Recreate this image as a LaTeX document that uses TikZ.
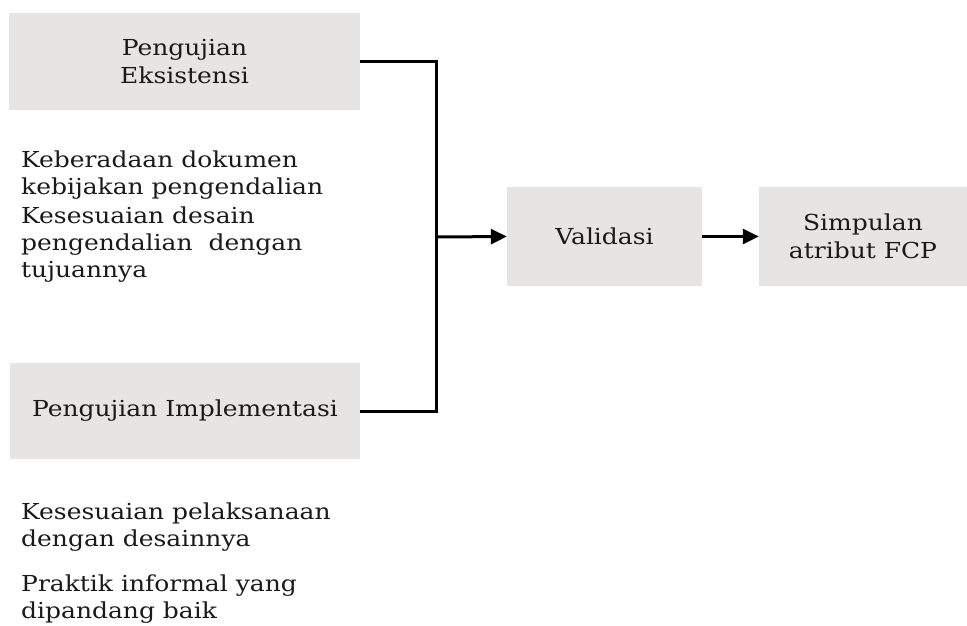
\documentclass[tikz,border=0pt]{standalone}
\usepackage{fontspec}
\setmainfont{DejaVu Serif}[FakeStretch=1.135]
\usetikzlibrary{arrows.meta}
\definecolor{boxgray}{HTML}{E7E4E4}
\definecolor{ink}{HTML}{1A1A1A}
\begin{document}
\begin{tikzpicture}[x=1pt,y=-1pt,
  box/.style={fill=boxgray,draw=none,inner sep=0pt,align=center,text=ink,font=\fontsize{22}{27.5}\selectfont},
  note/.style={inner sep=0pt,align=left,anchor=west,text=ink,font=\fontsize{22}{27}\selectfont},
  conn/.style={line width=3pt,line cap=butt,line join=miter},
  arr/.style={conn,-{Triangle[length=16pt,width=15pt]}}]
\useasboundingbox (0,0) rectangle (967,625);
\node[box,minimum width=351pt,minimum height=97pt] (b1) at (184.5,61.5) {Pengujian\\Eksistensi};
\node[box,minimum width=350pt,minimum height=96pt] (b2) at (185,411) {Pengujian Implementasi};
\node[box,minimum width=195pt,minimum height=99pt] (val) at (604.5,236.5) {Validasi};
\node[box,minimum width=208pt,minimum height=99pt] (sim) at (863,236.5) {Simpulan\\atribut FCP};
\node[note] (t1) at (21,175) {Keberadaan dokumen\\kebijakan pengendalian};
\node[note] (t2) at (21,245) {Kesesuaian desain\\pengendalian~ dengan\\tujuannya};
\node[note] (t3) at (21,527) {Kesesuaian pelaksanaan\\dengan desainnya};
\node[note] (t4) at (21,599) {Praktik informal yang\\dipandang baik};
\coordinate (j) at (436,237);
\draw[conn] (b1.east) -| (j);
\draw[conn] (b2.east) -| (j);
\draw[arr] (j) -- (val.west);
\draw[arr] (val.east) -- (sim.west);
\end{tikzpicture}
\end{document}
